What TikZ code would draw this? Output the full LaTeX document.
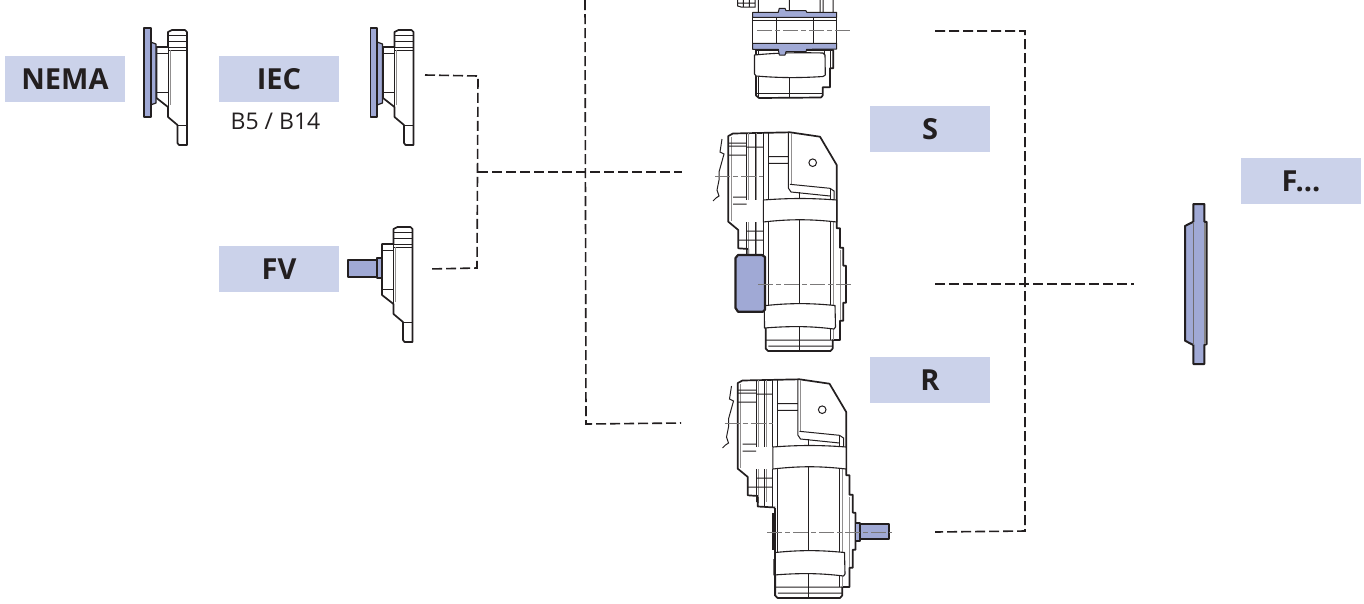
\documentclass[tikz,border=0pt]{standalone}
\usepackage{fontspec}
\setmainfont{Open Sans}
\definecolor{lab}{HTML}{CBD2EA}
\definecolor{blu}{HTML}{A0A9D5}
\definecolor{ink}{HTML}{231F20}
\tikzset{
 labelbox/.style={fill=lab,minimum width=120pt,minimum height=46pt,inner sep=0pt,font=\bfseries\fontsize{29}{32}\selectfont,text=ink},
 conn/.style={draw=ink,line width=1.6pt,dash pattern=on 10pt off 4pt},
 thk/.style={draw=ink,line width=1.7pt,line join=round},
 thn/.style={draw=ink,line width=1pt},
 gry/.style={draw=ink!50,line width=1pt},
 ctr/.style={draw=ink!60,line width=1pt,dash pattern=on 15pt off 3pt on 5pt off 3pt},
 bluf/.style={fill=blu,draw=ink,line width=1.7pt,line join=round},
 bandf/.style={fill=white,draw=ink,line width=1.1pt,line join=round}
}
% flange body, in the coordinates of the NEMA flange
\newcommand{\flangebody}{%
 \draw[thk,fill=white] (168,47) -- (168,32) -- (172,30) -- (185,30) -- (187,32) -- (187,145) -- (179,145) -- (177.5,143) -- (177.5,125) -- (168,117) -- (168,107) -- (156.5,98) -- (156.5,47) -- cycle;
 \draw[thn] (168,35) -- (187,35) (168,41) -- (187,41) (156.5,47) -- (187,47) (168,50) -- (187,50) (156.5,53) -- (168,53) (156.5,92) -- (168,92) (177.5,125) -- (187,125);
 \draw[thn] (168,47) -- (168,107);
 \draw[gry] (170,50) -- (170,105);
}
\newcommand{\flangeplate}{%
 \flangebody
 \draw[bluf,line width=1.2pt] (150.5,42) -- (156,44) -- (156,103) -- (150.5,105) -- cycle;
 \draw[bluf] (144,28) -- (150.7,28) -- (150.7,117) -- (144,117) -- cycle;
}
% gear unit, in the coordinates of the middle unit
\newcommand{\gearunit}{%
 \draw[thk,fill=white] (728.3,136) -- (733,133.5) -- (790,132.3) -- (820,136.7) -- (836.7,165) -- (836.7,228.3) -- (840,228.3) -- (840,247.7) -- (843.3,247.7) -- (843.3,265.7) -- (846,265.7) -- (846,302.7) -- (843.3,302.7) -- (843.3,320.7) -- (840,320.7) -- (840,340) -- (832.7,340) -- (832.7,348.5) -- (830.5,351) -- (768,351) -- (765.7,348.5) -- (765.7,311) -- (748.3,311) -- (748.3,249) -- (738.3,248.3) -- (738.3,230) -- (728.3,221.7) -- cycle;
 \draw[thn] (746.7,133) -- (746.7,200) (755,133) -- (755,200) (763.3,133) -- (763.3,200) (768.3,133) -- (768.3,305) (746.7,222) -- (746.7,255) (755,222) -- (755,255) (763.3,222) -- (763.3,311) (799.3,192) -- (799.3,351) (830,188) -- (830,200) (830,222) -- (830,340);
 \draw[gry] (748.5,133) -- (748.5,200) (748.5,222) -- (748.5,255) (756.7,133) -- (756.7,200) (756.7,222) -- (756.7,255) (731,137) -- (731,221) (833,222) -- (833,340) (791,133) -- (791,184) (840,250) -- (840,320);
 \draw[thn] (728.3,143) -- (746.7,143) (728.3,146) -- (746.7,146) (728.3,155) -- (746.7,155) (746.7,147) -- (763.3,147) (768.3,156.7) -- (788.3,156.7) (768.3,163.3) -- (788.3,163.3) (788.3,133) -- (788.3,188) -- (791,192) -- (830,196) (790,184.3) -- (830,188.3) -- (834,191) -- (834,200) (768.3,346) -- (832.7,346) (765.7,340) -- (832.7,340) (746.7,231) -- (763.3,231) (738.3,240) -- (763.3,240) (733,197) -- (746.7,197) (733,204) -- (746.7,204);
 \draw[thn,fill=white] (812.7,162.7) circle (3.8);
 \draw[bandf] (763.3,200) .. controls (790,198) and (810,198) .. (836.7,200) -- (836.7,222) .. controls (810,219) and (790,219) .. (763.3,222) -- cycle;
 \draw[bandf] (766,305.5) .. controls (790,303) and (810,303) .. (835,305.5) -- (835.5,327) -- (834,329) .. controls (810,326) and (790,326) .. (764.5,328) -- (764.3,306) -- cycle;
 \draw[thn] (722,139) -- (720,152) -- (724,154) -- (719,172) -- (719,180) -- (717,190) -- (719,196) -- (716,198) -- (713,201);
}
\begin{document}
\begin{tikzpicture}[x=1pt,y=-1pt]
\useasboundingbox (0,0) rectangle (1364,603);
\fill[white] (0,0) rectangle (1364,603);

% connector end points
\coordinate (iecEnd) at (425,75);
\coordinate (iecTurn) at (478,76);
\coordinate (fvEnd) at (429,269);
\coordinate (fvTurn) at (477,268);
\coordinate (midJoin) at (478,172);
\coordinate (midEnd) at (682,172);
\coordinate (topStart) at (585,0);
\coordinate (lowTurn) at (586,424);
\coordinate (lowEnd) at (681,423);
\coordinate (rTopEnd) at (935,31);
\coordinate (rTopTurn) at (1025,31);
\coordinate (rLowTurn) at (1025,531);
\coordinate (rLowEnd) at (935,532);
\coordinate (rMid) at (935,284);
\coordinate (flEnd) at (1134,284);

\draw[conn] (iecEnd) -- (iecTurn) -- (fvTurn) -- (fvEnd);
\draw[conn] (midJoin) -- (midEnd);
\draw[conn] (topStart) -- (lowTurn) -- (lowEnd);
\draw[conn] (rTopEnd) -- (rTopTurn) -- (rLowTurn) -- (rLowEnd);
\draw[conn] (rMid) -- (flEnd);

% labels
\node[labelbox] (nema) at (65,79) {\raisebox{-1.5pt}{NEMA}};
\node[labelbox] (iec) at (279,79) {\raisebox{-1.5pt}{IEC}};
\node[inner sep=0pt,font=\fontsize{23}{26}\selectfont,text=ink] (b5) at (275.5,121) {B5 / B14};
\node[labelbox] (fv) at (279,269) {\raisebox{-1.5pt}{FV}};
\node[labelbox] (s) at (930,129) {\raisebox{-1.5pt}{S}};
\node[labelbox] (r) at (930,380) {\raisebox{-1.5pt}{R}};
\node[labelbox] (f) at (1301,181) {\raisebox{-1.5pt}{F...}};

% flanges
\flangeplate
\begin{scope}[shift={(226.5,0)}]\flangeplate\end{scope}
\begin{scope}[shift={(225.5,197)}]
 \flangebody
\end{scope}
\draw[bluf] (348,260) -- (377,260) -- (377,277) -- (348,277) -- cycle;
\draw[bluf,line width=1.2pt] (377,258) -- (382,258) -- (382,278) -- (377,278) -- cycle;

% top unit
\draw[thn] (737.7,0) -- (737.7,6) -- (741,7) -- (755,7) -- (755,0) (743.3,0) -- (743.3,7) (749.3,0) -- (749.3,7) (737.7,3) -- (755,3) (758.3,0) -- (758.3,12) (789.3,0) -- (789.3,10) (820,0) -- (820,12) (823,0) -- (823,12) (833,0) -- (833,12);
\draw[thk,line width=1pt,fill=white] (752.7,17) rectangle (836.7,44);
\draw[thn] (752.7,20) -- (836.7,20) (776.7,17) -- (776.7,44) (813.3,17) -- (813.3,44);
\draw[ctr] (757,30.7) -- (851,30.7);
\draw[thk,fill=white] (833.3,50) -- (833.3,68.3) -- (830,68.3) -- (830,87.3) -- (822.7,87.3) -- (822.7,95.5) -- (821,97.5) -- (759,98) -- (756,95.5) -- (756,50) -- cycle;
\draw[thn] (758,77) -- (758,98) (789.3,76) -- (789.3,98) (756,93.3) -- (822.7,93.3) (758,50) -- (758,54) (824,50) -- (824,54) (830,50) -- (830,68);
\draw[bandf] (754.5,55) .. controls (780,52.5) and (800,52.5) .. (823,53) -- (825,55) -- (825.3,75) -- (823,76.5) .. controls (800,78) and (780,78) .. (756,76) -- (754.5,74) -- cycle;
\draw[bluf,line width=1pt] (752.7,12.3) -- (778.3,12.3) -- (779.3,8.3) -- (785,8.3) -- (786,10.7) -- (806,10.7) -- (806.7,12.3) -- (836.7,12.3) -- (836.7,17.3) -- (752.7,17.3) -- cycle;
\draw[bluf,line width=1pt] (752.7,43.3) -- (836.7,43.3) -- (836.7,49) -- (806.7,49.3) -- (806,51.7) -- (786,51.7) -- (785,55) -- (779.3,55) -- (778.3,49.3) -- (752.7,49.3) -- cycle;

% middle unit
\gearunit
\draw[bluf,line width=2.2pt] (738,255) -- (762,255) -- (765,257) -- (765,309.5) -- (763,311.7) -- (738,311.7) -- (735.5,308) -- (735.5,258) -- cycle;
\draw[ctr] (715,176.7) -- (763,176.7);
\draw[ctr] (758,284) -- (851,284);

% lower unit
\begin{scope}[shift={(9.5,247)}]
 \gearunit
 \draw[ctr] (715,176.7) -- (763,176.7);
 \fill[white] (746.5,256) rectangle (764.5,312);
 \draw[thk] (765.7,260.5) -- (765.7,348.5);
 \draw[thk] (763.5,266) -- (763.5,303);
 \draw[thk] (748.3,250) -- (748.3,259.5) -- (765.7,260.5);
 \draw[thn] (755,250) -- (755,260) (763.3,250) -- (763.3,260);
\end{scope}
\draw[bluf,line width=1.2pt] (855.7,523) -- (860,523) -- (860,541) -- (855.7,541) -- cycle;
\draw[bluf] (860,524) -- (889,524) -- (889,539) -- (860,539) -- cycle;
\draw[ctr] (767,532) -- (892,532);

% cover plate
\draw[bluf,line width=2pt] (1193.3,204) -- (1204.3,204) -- (1204.3,221.7) -- (1206.7,222) -- (1206.7,344) -- (1204.3,345) -- (1204.3,364) -- (1193.3,364) -- (1193.3,345) -- (1185,340.7) -- (1185,226) -- (1193.3,221.7) -- cycle;
\fill[ink!55] (1204.3,222.5) rectangle (1205.8,344);
\draw[draw=ink!65,line width=1pt] (1193.3,222) -- (1193.3,345);
\end{tikzpicture}
\end{document}
